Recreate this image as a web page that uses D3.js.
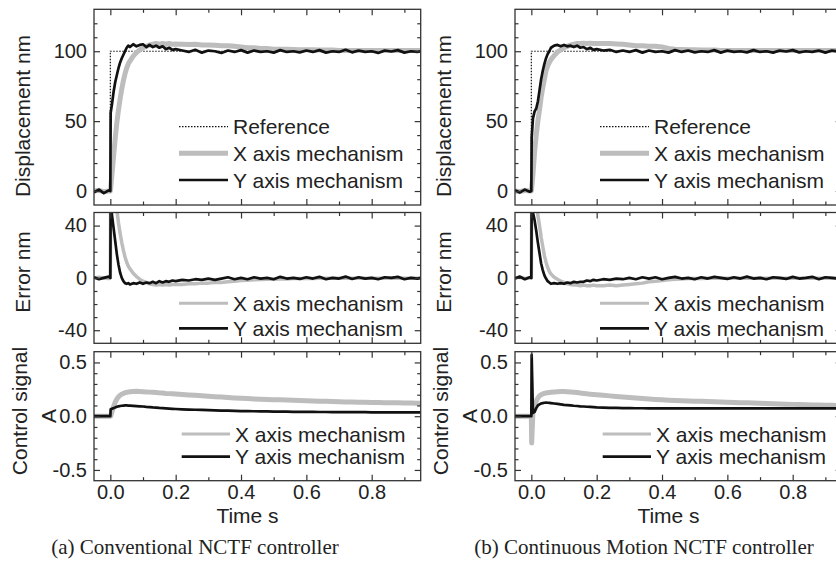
<!DOCTYPE html>
<html>
<head>
<meta charset="utf-8">
<script src="https://cdn.jsdelivr.net/npm/d3@7"></script>
<style>
body { margin: 0; background: #fff; }
svg text { font-family: "Liberation Sans", Arial, sans-serif; fill: #222; }
.axis path { display: none; }
.axis line { stroke: #333; stroke-width: 1.2; }
.axis text { font-size: 20px; }
.caption { font-family: "Liberation Serif", "Times New Roman", serif; font-size: 21px; }
</style>
</head>
<body>
<svg id="chart" width="836" height="566"></svg>
<script>
// sample times (s), shared by every measured series
var time = [-0.05, -0.035, -0.02, -0.005, 0, 0.001,
  0.005, 0.01, 0.015, 0.02, 0.025, 0.03, 0.035, 0.04, 0.045, 0.05, 0.055, 0.06,
  0.07, 0.08, 0.09, 0.1, 0.11, 0.12, 0.13, 0.14, 0.15, 0.16, 0.17, 0.18, 0.19, 0.2,
  0.22, 0.24, 0.26, 0.28, 0.3, 0.32, 0.34, 0.36, 0.38, 0.4, 0.42, 0.44, 0.46, 0.48,
  0.5, 0.52, 0.54, 0.56, 0.58, 0.6, 0.62, 0.64, 0.66, 0.68, 0.7, 0.72, 0.74, 0.76,
  0.78, 0.8, 0.82, 0.84, 0.86, 0.88, 0.9, 0.92, 0.94, 0.95];

// reference step
var refTime = [-0.05, 0, 0, 0.95];
var refValue = [0, 0, 100, 100];

// (a) conventional NCTF
var dispXa = [0, 0.5, -0.5, 0, 0, 2,
  12, 25, 38, 49, 58, 66, 73, 79, 84, 88, 91, 93,
  96.5, 99, 101, 102.5, 103.5, 104.5, 105, 105.5, 105, 105.5, 105, 105.5, 105, 105.2,
  105, 104.8, 105, 104.5, 104.5, 104.2, 104, 104, 103.5, 103, 102.5, 102.5, 102, 102,
  101.5, 101.5, 101.5, 101.2, 101, 101, 101, 100.8, 100.8, 100.8, 100.5, 100.5, 100.5, 100.5,
  100.5, 100.5, 100.5, 100.5, 100.5, 100.5, 100.5, 100.5, 100.5, 100.5];
var dispYa = [-1, 1, -1.5, 0.5, 0, 56,
  62, 71, 78, 83, 88, 92, 95, 97.5, 100, 102.5, 104, 103,
  105, 103.5, 104.5, 105, 103, 104.5, 103, 104, 102.5, 103.5, 101.5, 102.5, 101, 101.5,
  100.5, 99.5, 101, 99, 100.5, 100, 98.8, 100.5, 99.5, 100.8, 99, 100.5, 99.5, 100,
  99, 100.8, 99.5, 100, 99.2, 100.5, 99.5, 100.8, 99, 100, 99.5, 101, 99.2, 100.5,
  99.5, 100, 98.8, 100.5, 99.8, 100.8, 99, 100, 99.5, 100];
var errXa = [0, 0.5, 0, -0.5, 0, 60,
  60, 60, 60, 52, 42, 34, 27, 21, 16, 12, 9, 7,
  3.5, 1, -1, -2.5, -3.5, -4.5, -5, -5.5, -5, -5.5, -5, -5.5, -5, -5,
  -5, -4.5, -4.5, -4, -4, -3.5, -3.5, -3, -2.5, -2, -1.8, -1.5, -1.2, -1,
  -1, -0.8, -0.8, -0.5, -0.5, -0.5, -0.5, -0.3, -0.3, -0.3, -0.3, -0.3, -0.3, -0.3,
  -0.3, -0.3, -0.3, -0.3, -0.3, -0.3, -0.3, -0.3, -0.3, -0.3];
var errYa = [0.5, -1, 0, 1, 0, 60,
  48, 38, 28, 18, 10, 4, 0, -2.5, -4, -4.5, -4, -5,
  -4, -4.5, -3.5, -4.5, -3.5, -4, -3, -4, -2.5, -3.5, -2.5, -3, -2, -2.5,
  -1.5, -2, -1, -1.5, -0.5, -1.5, -0.5, 0.5, -1, 0, -1, 0.5, -0.5, 0,
  -1, 0.8, -0.5, 0, -0.8, 0.5, -0.5, 0.8, -1, 0, -0.5, 1, -0.8, 0.5,
  -0.5, 0, -1, 0.5, 0, 0.8, -1, 0, -0.5, 0];
var ctlXa = [0, 0, 0, 0, 0, 0,
  0.04, 0.09, 0.13, 0.16, 0.18, 0.195, 0.205, 0.212, 0.218, 0.222, 0.225, 0.227,
  0.23, 0.231, 0.23, 0.228, 0.226, 0.224, 0.222, 0.22, 0.217, 0.215, 0.212, 0.21, 0.208, 0.206,
  0.202, 0.198, 0.194, 0.19, 0.186, 0.182, 0.178, 0.174, 0.17, 0.167, 0.164, 0.161, 0.158, 0.156,
  0.154, 0.152, 0.15, 0.148, 0.146, 0.144, 0.142, 0.14, 0.138, 0.136, 0.134, 0.132, 0.131, 0.13,
  0.129, 0.128, 0.127, 0.126, 0.125, 0.124, 0.123, 0.122, 0.121, 0.121];
var ctlYa = [0, 0, 0, 0, 0, 0.065,
  0.07, 0.075, 0.082, 0.088, 0.092, 0.095, 0.097, 0.099, 0.1, 0.1, 0.099, 0.098,
  0.096, 0.094, 0.092, 0.09, 0.087, 0.085, 0.082, 0.08, 0.077, 0.075, 0.073, 0.071, 0.069, 0.067,
  0.064, 0.062, 0.06, 0.058, 0.056, 0.054, 0.052, 0.051, 0.05, 0.048, 0.047, 0.046, 0.045, 0.044,
  0.043, 0.043, 0.042, 0.041, 0.041, 0.04, 0.04, 0.039, 0.039, 0.038, 0.038, 0.038, 0.037, 0.037,
  0.037, 0.036, 0.036, 0.036, 0.035, 0.035, 0.035, 0.035, 0.035, 0.035];

// (b) continuous motion NCTF
var dispXb = [0, -0.5, 0.5, 0, 0, 2,
  12, 28, 40, 50, 58, 67, 74, 80, 86, 89.5, 92, 94,
  97, 99.5, 101, 102.5, 103.5, 104.5, 105, 105.5, 105.5, 105.8, 105.5, 105.8, 105.5, 105.5,
  105.5, 105.5, 105.2, 105, 104.5, 104, 104, 103.5, 103.5, 103, 102, 101.5, 101.2, 101,
  101, 100.8, 100.8, 100.8, 100.5, 100.5, 100.5, 100.5, 100.5, 100.5, 100.5, 100.5, 100.5, 100.5,
  100.5, 100.5, 100.5, 100.5, 100.5, 100.5, 100.5, 100.5, 100.5, 100.5];
var dispYb = [0.5, -1, 1, -0.5, 0, 38,
  52, 57, 59, 64, 72, 80, 86, 91, 95, 98, 100, 102.5,
  104, 104.5, 103.5, 104.5, 103.5, 104, 103, 104, 102.5, 103, 101.5, 102.5, 101, 101.5,
  100.5, 101, 99.5, 100.5, 99.5, 100.8, 99, 100.5, 99.5, 100, 99, 100.8, 99.5, 100.5,
  99.2, 100, 99.5, 100.8, 99, 100.5, 99.5, 100, 99.2, 100.8, 99.5, 100, 99, 100.5,
  99.8, 100.8, 99.2, 100, 99.5, 100.5, 99, 100.5, 99.8, 100];
var errXb = [0, 0.5, -0.5, 0, 0, 60,
  60, 60, 58, 48, 40, 31, 24, 17, 12, 8, 5, 3,
  0.5, -1, -2.5, -3.5, -4.5, -5, -5.5, -5.5, -6, -5.5, -6, -6, -5.5, -6,
  -6, -5.5, -6, -5.5, -5, -4.5, -4, -3, -2.5, -2, -1.5, -1, -0.8, -0.5,
  -0.5, -0.5, -0.3, -0.3, -0.3, -0.3, -0.3, -0.3, -0.3, -0.3, -0.3, -0.3, -0.3, -0.3,
  -0.3, -0.3, -0.3, -0.3, -0.3, -0.3, -0.3, -0.3, -0.3, -0.3];
var errYb = [-0.5, 1, -1, 0.5, 0, 60,
  50, 44, 36, 27, 19, 11, 6, 2, -0.5, -2.5, -3.5, -4.5,
  -4, -4.5, -4, -4.5, -3.5, -4, -3, -3.5, -3, -3, -2, -2.5, -1.5, -2,
  -1, -1.5, -0.5, -1, 0, -1, 0.5, -0.5, 0.5, -1, 0, 0.8, -0.5, 0,
  -1, 0.5, -0.5, 0.8, 0, -0.8, 0.5, -0.5, 1, -0.5, 0, -1, 0.5, 0,
  -0.8, 0.8, -0.5, 0, 0.8, -1, 0.5, 0, -0.5, 0];
var ctlXb = [0, 0, 0, 0, 0, -0.25,
  0.05, 0.1, 0.14, 0.17, 0.19, 0.2, 0.207, 0.212, 0.216, 0.219, 0.221, 0.223,
  0.226, 0.228, 0.229, 0.229, 0.228, 0.226, 0.223, 0.22, 0.216, 0.212, 0.208, 0.205, 0.202, 0.199,
  0.194, 0.189, 0.184, 0.179, 0.174, 0.169, 0.164, 0.159, 0.155, 0.152, 0.149, 0.146, 0.144, 0.142,
  0.14, 0.138, 0.136, 0.134, 0.132, 0.13, 0.128, 0.126, 0.124, 0.122, 0.12, 0.118, 0.116, 0.114,
  0.112, 0.11, 0.108, 0.106, 0.105, 0.104, 0.102, 0.101, 0.1, 0.1];
var ctlYb = [0, 0, 0, 0, 0, 0.57,
  0.03, 0.04, 0.075, 0.1, 0.11, 0.118, 0.122, 0.125, 0.126, 0.125, 0.124, 0.122,
  0.118, 0.114, 0.11, 0.106, 0.103, 0.1, 0.097, 0.095, 0.092, 0.09, 0.088, 0.086, 0.084, 0.082,
  0.08, 0.078, 0.077, 0.076, 0.075, 0.074, 0.074, 0.073, 0.073, 0.073, 0.072, 0.072, 0.072, 0.072,
  0.072, 0.072, 0.072, 0.072, 0.072, 0.072, 0.072, 0.072, 0.072, 0.072, 0.072, 0.072, 0.072, 0.072,
  0.072, 0.072, 0.072, 0.072, 0.072, 0.072, 0.072, 0.072, 0.072, 0.072];

// axis ticks
var xMajor = [0, 0.2, 0.4, 0.6, 0.8];
var xMinor = [0.1, 0.3, 0.5, 0.7, 0.9];
var dispMajor = [0, 50, 100];
var dispMinor = [10, 20, 30, 40, 60, 70, 80, 90, 110, 120];
var errMajor = [-40, 0, 40];
var errMinor = [-30, -20, -10, 10, 20, 30];
var ctlMajor = [-0.5, 0, 0.5];
var ctlMinor = [-0.4, -0.3, -0.2, -0.1, 0.1, 0.2, 0.3, 0.4];

var captions = ["(a) Conventional NCTF controller", "(b) Continuous Motion NCTF controller"];

var gray = "#bdbdbd", black = "#111";
var svg = d3.select("#chart");
var plotLeft = 94, plotRight = 420.7;

var rows = [
  {top: 9.3, bottom: 205, domain: [-10, 130], major: dispMajor, minor: dispMinor,
   fmt: function(d) { return String(d); },
   legY: [126.7, 153.3, 180], legX: [179, 228, 233], grayW: 5, legGrayW: 5},
  {top: 212.5, bottom: 343.3, domain: [-50, 50], major: errMajor, minor: errMinor,
   fmt: function(d) { return String(d); },
   legY: [303.3, 328.3], legX: [179, 228, 233], grayW: 3.5, legGrayW: 3},
  {top: 351.7, bottom: 480.7, domain: [-0.6, 0.6], major: ctlMajor, minor: ctlMinor,
   fmt: function(d) { return d.toFixed(1); },
   legY: [434, 456.7], legX: [181.7, 230, 235], grayW: 5, legGrayW: 3}
];

var figures = [
  {dx: 0, series: [[dispXa, dispYa], [errXa, errYa], [ctlXa, ctlYa]], caption: captions[0], capX: 195},
  {dx: 421, series: [[dispXb, dispYb], [errXb, errYb], [ctlXb, ctlYb]], caption: captions[1], capX: 644}
];

var x = d3.scaleLinear().domain([-0.05, 0.95]).range([plotLeft, plotRight]);

figures.forEach(function(fig, fi) {
  var g = svg.append("g").attr("transform", "translate(" + fig.dx + ",0)");

  rows.forEach(function(row, ri) {
    var y = d3.scaleLinear().domain(row.domain).range([row.bottom, row.top]);
    var line = d3.line().x(function(d) { return x(d[0]); }).y(function(d) { return y(d[1]); });
    var clipId = "clip-" + fi + "-" + ri;

    g.append("clipPath").attr("id", clipId).append("rect")
      .attr("x", plotLeft).attr("y", row.top)
      .attr("width", plotRight - plotLeft).attr("height", row.bottom - row.top);

    var plot = g.append("g").attr("clip-path", "url(#" + clipId + ")");

    if (ri === 0) {
      plot.append("path").datum(d3.zip(refTime, refValue))
        .attr("d", line).attr("fill", "none")
        .attr("stroke", black).attr("stroke-width", 1.2).attr("stroke-dasharray", "1.5,1.5");
    }
    plot.append("path").datum(d3.zip(time, fig.series[ri][0]))
      .attr("d", line).attr("fill", "none")
      .attr("stroke", gray).attr("stroke-width", row.grayW).attr("stroke-linejoin", "round");
    plot.append("path").datum(d3.zip(time, fig.series[ri][1]))
      .attr("d", line).attr("fill", "none")
      .attr("stroke", black).attr("stroke-width", 2.7).attr("stroke-linejoin", "round");

    // ticks on all four sides, pointing inward
    g.append("g").attr("class", "axis").attr("transform", "translate(" + plotLeft + ",0)")
      .call(d3.axisLeft(y).tickValues(row.major).tickSize(-6).tickPadding(7).tickFormat(row.fmt));
    g.append("g").attr("class", "axis").attr("transform", "translate(" + plotLeft + ",0)")
      .call(d3.axisLeft(y).tickValues(row.minor).tickSize(-3.5).tickFormat(""));
    g.append("g").attr("class", "axis").attr("transform", "translate(" + plotRight + ",0)")
      .call(d3.axisRight(y).tickValues(row.major).tickSize(-6).tickFormat(""));
    g.append("g").attr("class", "axis").attr("transform", "translate(" + plotRight + ",0)")
      .call(d3.axisRight(y).tickValues(row.minor).tickSize(-3.5).tickFormat(""));
    g.append("g").attr("class", "axis").attr("transform", "translate(0," + row.top + ")")
      .call(d3.axisTop(x).tickValues(xMajor).tickSize(-6).tickFormat(""));
    g.append("g").attr("class", "axis").attr("transform", "translate(0," + row.top + ")")
      .call(d3.axisTop(x).tickValues(xMinor).tickSize(-3.5).tickFormat(""));
    var bottomAxis = d3.axisBottom(x).tickValues(xMajor).tickSize(-6).tickPadding(4);
    if (ri < 2) bottomAxis.tickFormat("");
    else bottomAxis.tickFormat(function(d) { return d.toFixed(1); });
    g.append("g").attr("class", "axis").attr("transform", "translate(0," + row.bottom + ")")
      .call(bottomAxis);
    g.append("g").attr("class", "axis").attr("transform", "translate(0," + row.bottom + ")")
      .call(d3.axisBottom(x).tickValues(xMinor).tickSize(-3.5).tickFormat(""));

    g.append("rect")
      .attr("x", plotLeft).attr("y", row.top)
      .attr("width", plotRight - plotLeft).attr("height", row.bottom - row.top)
      .attr("fill", "none").attr("stroke", "#333").attr("stroke-width", 1.3);

    // legend
    var items = [];
    if (ri === 0) items.push({label: "Reference", color: black, w: 1.2, dash: "1.5,1.5"});
    items.push({label: "X axis mechanism", color: gray, w: row.legGrayW, dash: null});
    items.push({label: "Y axis mechanism", color: black, w: 2.7, dash: null});
    items.forEach(function(it, k) {
      var ly = row.legY[k];
      g.append("line")
        .attr("x1", row.legX[0]).attr("x2", row.legX[1]).attr("y1", ly).attr("y2", ly)
        .attr("stroke", it.color).attr("stroke-width", it.w)
        .attr("stroke-dasharray", it.dash);
      g.append("text").attr("x", row.legX[2]).attr("y", ly + 7.5)
        .style("font-size", "21px").text(it.label);
    });
  });

  // axis titles
  g.append("text").attr("transform", "translate(30,116) rotate(-90)")
    .attr("text-anchor", "middle").style("font-size", "21px").text("Displacement nm");
  g.append("text").attr("transform", "translate(30,272) rotate(-90)")
    .attr("text-anchor", "middle").style("font-size", "21px").text("Error nm");
  g.append("text").attr("transform", "translate(27,411) rotate(-90)")
    .attr("text-anchor", "middle").style("font-size", "21px").text("Control signal");
  g.append("text").attr("transform", "translate(56,416) rotate(-90)")
    .attr("text-anchor", "middle").style("font-size", "21px").text("A");
  g.append("text").attr("x", 247.5).attr("y", 523)
    .attr("text-anchor", "middle").style("font-size", "21px").text("Time s");

  g.append("text").attr("class", "caption").attr("x", fig.capX - fig.dx).attr("y", 554)
    .attr("text-anchor", "middle").text(fig.caption);
});
</script>
</body>
</html>
